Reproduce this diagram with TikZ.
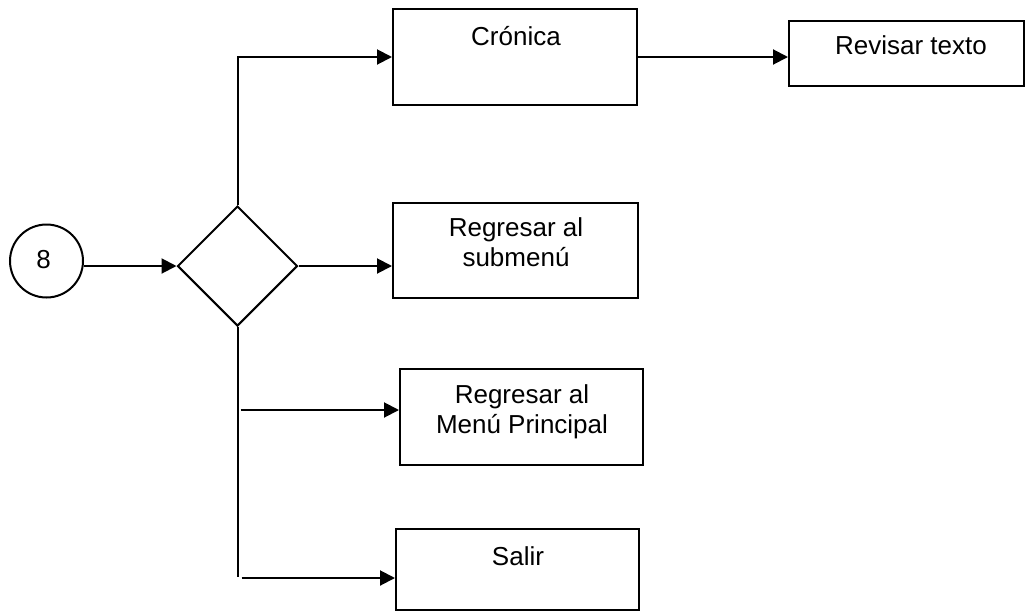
\documentclass[tikz,border=0pt]{standalone}
\usepackage{fontspec}
\setmainfont{Liberation Sans}
\usetikzlibrary{shapes.geometric,arrows.meta,calc}
\begin{document}
\begin{tikzpicture}[x=1pt,y=-1pt,
  every node/.style={font=\fontsize{26}{30}\selectfont},
  box/.style={draw, line width=2pt, rectangle, inner sep=0pt},
  lbl/.style={align=center, inner sep=0pt},
  conn/.style={line width=2pt},
  arr/.style={conn, -{Triangle[length=15pt,width=15pt]}},
]
\useasboundingbox (0,0) rectangle (1026,611);

% connector and decision
\node[draw, circle, line width=2pt, minimum size=73pt, inner sep=0pt] (start) at (46.5,261) {};
\node[lbl] (start-t) at (43.5,260) {8};
\node[draw, diamond, line width=2pt, minimum width=120pt, minimum height=120pt,
      inner sep=0pt] (dec) at (237.5,266) {};

% process boxes
\node[box, minimum width=244pt, minimum height=96pt] (cron) at (515,57) {};
\node[box, minimum width=235pt, minimum height=65pt] (rev)  at (906.5,53.5) {};
\node[box, minimum width=245pt, minimum height=95pt] (sub)  at (515.5,250.5) {};
\node[box, minimum width=243pt, minimum height=96pt] (mp)   at (521.5,417) {};
\node[box, minimum width=243pt, minimum height=81pt] (sal)  at (517.5,569.5) {};

% box labels
\node[lbl] (cron-t) at (516,36)  {Crónica};
\node[lbl] (rev-t)  at (911,45)  {Revisar texto};
\node[lbl] (sub-t)  at (516,242) {Regresar al\\submenú};
\node[lbl] (mp-t)   at (522,412) {Regresar al\\Menú Principal};
\node[lbl] (sal-t)  at (518,556) {Salir};

% flow
\draw[arr] (start.east |- dec.west) -- (dec.west);
\draw[arr] (dec.north) |- (cron.west);
\draw[arr] (cron.east) -- (rev.west |- cron.east);
\draw[arr] (dec.east) -- (sub.west |- dec.east);

\coordinate (trunk) at (237.5,577);
\draw[conn] (dec.south) -- (trunk);
\coordinate (b1) at (240.5,410);
\coordinate (b2) at (241.5,578);
\draw[arr] (b1) -- (mp.west |- b1);
\draw[arr] (b2) -- (sal.west |- b2);
\end{tikzpicture}
\end{document}
